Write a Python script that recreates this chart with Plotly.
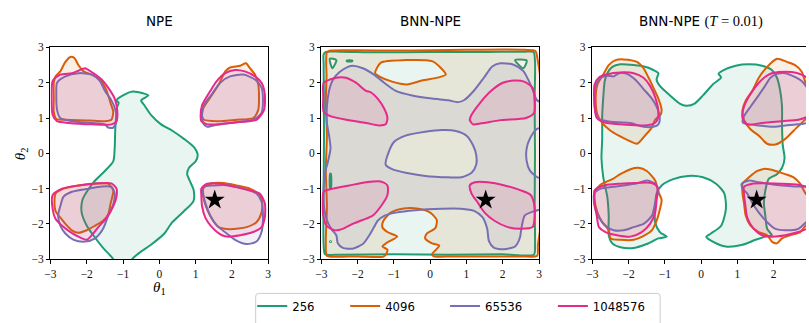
import plotly.graph_objects as go

W, H = 809, 323

budgets = ["256", "4096", "65536", "1048576"]
line_colors = ["#1b9e77", "#d95f02", "#7570b3", "#e7298a"]
fill_colors = ["rgba(27,158,119,0.1)", "rgba(217,95,2,0.1)",
               "rgba(117,112,179,0.1)", "rgba(231,41,138,0.1)"]
ticks = [-3, -2, -1, 0, 1, 2, 3]
theta_true = [1.53, -1.32]

# ---------------- NPE credible regions ----------------
npe_256 = [[(-1.27, -3.0), (-1.55, -2.68), (-1.82, -2.32), (-2.0, -2.05), (-2.14, -1.68), (-2.12, -1.32),
            (-2.0, -1.09), (-1.77, -0.77), (-1.5, -0.5), (-1.27, -0.23), (-1.23, 0.14), (-1.21, 0.77),
            (-1.16, 1.32), (-1.12, 1.43), (-1.18, 1.5), (-1.0, 1.64), (-0.73, 1.75), (-0.45, 1.7),
            (-0.3, 1.64), (-0.5, 1.5), (-0.41, 1.36), (-0.23, 1.09), (0.05, 0.82), (0.36, 0.64),
            (0.68, 0.41), (0.95, 0.18), (1.06, -0.05), (1.0, -0.23), (0.82, -0.41), (0.77, -0.59),
            (0.86, -0.82), (0.95, -1.05), (0.94, -1.36), (0.68, -1.64), (0.36, -1.95), (0.14, -2.27),
            (-0.23, -2.59), (-0.55, -2.82), (-0.75, -3.0), (-0.85, -3.3), (-1.2, -3.3)]]
npe_4096 = [
    [(-2.91, 2.0), (-2.86, 2.18), (-2.73, 2.32), (-2.59, 2.59), (-2.45, 2.73), (-2.34, 2.7), (-2.23, 2.5),
     (-2.09, 2.32), (-1.86, 2.23), (-1.64, 2.09), (-1.45, 1.77), (-1.34, 1.41), (-1.27, 1.18), (-1.32, 0.95),
     (-1.5, 0.91), (-1.95, 0.93), (-2.59, 0.95), (-2.84, 0.97), (-2.91, 1.18), (-2.91, 1.59)],
    [(1.18, 1.05), (1.21, 1.27), (1.41, 1.59), (1.64, 1.95), (1.82, 2.32), (1.95, 2.43), (2.23, 2.48),
     (2.39, 2.55), (2.5, 2.41), (2.64, 2.23), (2.73, 1.95), (2.75, 1.59), (2.73, 1.23), (2.59, 1.0),
     (2.14, 0.95), (1.59, 0.91), (1.23, 0.95)],
    [(-2.86, -1.14), (-2.64, -1.0), (-2.23, -0.91), (-1.77, -0.86), (-1.41, -0.86), (-1.27, -1.05),
     (-1.34, -1.41), (-1.41, -1.73), (-1.55, -1.91), (-1.77, -2.05), (-2.0, -2.18), (-2.23, -2.25),
     (-2.41, -2.18), (-2.59, -2.0), (-2.73, -1.82), (-2.86, -1.64), (-2.89, -1.36)],
    [(1.21, -1.0), (1.41, -0.86), (1.77, -0.84), (2.14, -0.91), (2.5, -1.0), (2.73, -1.14), (2.84, -1.36),
     (2.82, -1.68), (2.68, -1.95), (2.41, -2.09), (1.95, -2.15), (1.64, -2.09), (1.45, -1.86),
     (1.32, -1.59), (1.23, -1.32)],
]
npe_65536 = [
    [(-2.82, 2.0), (-2.59, 2.18), (-2.23, 2.27), (-1.86, 2.23), (-1.64, 2.05), (-1.5, 1.77), (-1.32, 1.5),
     (-1.21, 1.23), (-1.18, 0.91), (-1.27, 0.73), (-1.41, 0.73), (-1.5, 0.82), (-1.86, 0.86), (-2.41, 0.91),
     (-2.73, 1.0), (-2.82, 1.23), (-2.84, 1.68)],
    [(1.18, 1.09), (1.23, 1.36), (1.45, 1.68), (1.68, 2.0), (1.95, 2.18), (2.32, 2.23), (2.64, 2.09),
     (2.82, 1.86), (2.86, 1.5), (2.82, 1.14), (2.59, 0.95), (1.95, 0.86), (1.5, 0.79), (1.32, 0.75),
     (1.21, 0.86)],
    [(-2.73, -1.5), (-2.64, -1.23), (-2.41, -1.09), (-1.95, -1.0), (-1.59, -0.94), (-1.32, -0.95),
     (-1.23, -1.14), (-1.27, -1.45), (-1.41, -1.77), (-1.55, -2.14), (-1.77, -2.41), (-2.05, -2.5),
     (-2.36, -2.45), (-2.59, -2.27), (-2.73, -2.05), (-2.79, -1.77)],
    [(1.21, -0.95), (1.5, -0.91), (1.95, -0.91), (2.32, -1.0), (2.68, -1.14), (2.82, -1.36), (2.86, -1.77),
     (2.82, -2.23), (2.68, -2.5), (2.41, -2.57), (2.09, -2.45), (1.86, -2.27), (1.59, -2.05), (1.41, -1.77),
     (1.27, -1.41), (1.21, -1.14)],
]
npe_1048576 = [
    [(-2.94, 2.05), (-2.73, 2.23), (-2.41, 2.27), (-2.23, 2.34), (-2.05, 2.41), (-1.82, 2.27), (-1.59, 2.09),
     (-1.41, 1.86), (-1.23, 1.55), (-1.16, 1.23), (-1.18, 0.91), (-1.32, 0.82), (-1.86, 0.82), (-2.5, 0.86),
     (-2.82, 0.91), (-2.94, 1.09), (-2.97, 1.59)],
    [(1.14, 1.05), (1.18, 1.36), (1.41, 1.77), (1.59, 2.05), (1.82, 2.27), (2.09, 2.36), (2.36, 2.32),
     (2.64, 2.18), (2.82, 2.0), (2.91, 1.68), (2.89, 1.23), (2.68, 0.95), (2.14, 0.88), (1.59, 0.82),
     (1.32, 0.82), (1.16, 0.91)],
    [(-2.94, -1.18), (-2.68, -1.0), (-2.23, -0.91), (-1.68, -0.85), (-1.32, -0.85), (-1.18, -1.0),
     (-1.18, -1.23), (-1.27, -1.5), (-1.45, -1.82), (-1.68, -2.09), (-1.86, -2.32), (-2.0, -2.45),
     (-2.23, -2.36), (-2.45, -2.23), (-2.68, -2.05), (-2.86, -1.86), (-2.94, -1.59)],
    [(1.16, -1.0), (1.32, -0.86), (1.68, -0.86), (2.09, -0.95), (2.5, -1.05), (2.77, -1.14), (2.91, -1.41),
     (2.91, -1.82), (2.82, -2.09), (2.59, -2.23), (2.23, -2.32), (1.91, -2.36), (1.73, -2.32), (1.45, -2.09),
     (1.27, -1.82), (1.18, -1.5), (1.16, -1.18)],
]

# ---------------- BNN-NPE credible regions ----------------
bnn_256 = [[(-2.94, 2.8), (-2.88, 2.87), (-2.5, 2.88), (-1.5, 2.86), (0.0, 2.87), (1.5, 2.87), (2.6, 2.88),
            (2.85, 2.87), (2.89, 2.6), (2.88, 1.5), (2.89, 0.0), (2.88, -1.5), (2.89, -2.6), (2.86, -2.87),
            (2.0, -2.86), (0.5, -2.87), (-1.0, -2.86), (-2.5, -2.87), (-2.9, -2.86), (-2.94, -2.6),
            (-2.94, -1.0), (-2.93, 0.5), (-2.94, 2.5)]]
bnn_256_holes = [
    [(-2.77, 2.68), (-2.59, 2.64), (-2.7, 2.41)],
    [(2.34, 2.64), (2.66, 2.63), (2.57, 2.41)],
    [(-2.3, 2.63), (-2.15, 2.63), (-2.15, 2.61), (-2.3, 2.61)],
    [(-2.76, -0.58), (-2.74, -0.58), (-2.74, -1.0), (-2.76, -1.0)],
    [(-2.76, -2.49), (-2.74, -2.49), (-2.74, -2.51), (-2.76, -2.51)],
]
bnn_4096 = [[(-2.87, 2.6), (-2.85, 2.86), (-2.75, 2.91), (-2.0, 2.92), (-1.0, 2.91), (0.0, 2.92), (1.0, 2.93),
             (2.0, 2.94), (2.6, 2.93), (2.9, 2.9), (2.97, 2.6), (3.05, 2.0), (3.05, -2.0), (2.97, -2.6),
             (2.95, -2.9), (2.5, -2.92), (1.5, -2.92), (0.6, -2.92), (0.1, -2.92), (0.05, -2.86),
             (0.16, -2.73), (0.25, -2.61), (0.05, -2.55), (-0.14, -2.41), (-0.09, -2.27), (0.14, -2.12),
             (0.18, -1.89), (0.0, -1.68), (-0.32, -1.57), (-0.73, -1.56), (-1.09, -1.68), (-1.29, -1.91),
             (-1.32, -2.09), (-1.18, -2.23), (-0.91, -2.36), (-1.18, -2.52), (-1.32, -2.64), (-1.18, -2.73),
             (-1.23, -2.88), (-1.3, -2.93), (-2.0, -2.92), (-2.6, -2.93), (-2.85, -2.9), (-2.88, -2.5),
             (-2.85, -1.5), (-2.88, -0.5), (-2.85, 0.5), (-2.88, 1.5), (-2.86, 2.2)]]
bnn_4096_holes = [[(-1.52, 2.27), (-1.36, 2.57), (-0.68, 2.64), (0.05, 2.61), (0.3, 2.41), (0.43, 2.23),
                   (0.23, 2.15), (-0.23, 2.06), (-0.64, 1.95), (-1.05, 2.03), (-1.41, 2.18)]]
bnn_65536 = [[(-2.27, 2.45), (-2.14, 2.48), (-1.86, 2.41), (-1.55, 2.23), (-1.27, 2.0), (-0.95, 1.77),
              (-0.5, 1.64), (0.05, 1.55), (0.5, 1.5), (0.77, 1.45), (0.94, 1.51), (1.21, 1.78), (1.48, 2.14),
              (1.71, 2.46), (1.93, 2.55), (2.3, 2.51), (2.57, 2.33), (2.8, 1.87), (2.94, 1.51), (3.1, 1.4),
              (3.1, 0.75), (2.94, 0.69), (2.75, 0.42), (2.66, 0.14), (2.66, -0.22), (2.75, -0.49),
              (2.94, -0.67), (3.1, -0.75), (3.1, -1.55), (2.89, -1.63), (2.61, -1.76), (2.53, -2.04),
              (2.47, -2.4), (2.35, -2.63), (2.03, -2.72), (1.75, -2.67), (1.62, -2.49), (1.57, -2.13),
              (1.44, -1.81), (1.21, -1.63), (0.84, -1.57), (0.32, -1.57), (-0.41, -1.61), (-0.95, -1.68),
              (-1.27, -1.77), (-1.45, -1.91), (-1.55, -2.09), (-1.68, -2.32), (-1.86, -2.57), (-2.14, -2.7),
              (-2.41, -2.68), (-2.55, -2.55), (-2.59, -2.32), (-2.73, -2.14), (-2.86, -1.86), (-2.94, -1.41),
              (-2.94, -0.95), (-2.91, -0.59), (-2.82, -0.23), (-2.75, 0.14), (-2.79, 0.5), (-2.85, 0.86),
              (-2.85, 1.32), (-2.79, 1.77), (-2.68, 2.09), (-2.5, 2.3)]]
bnn_65536_holes = [[(-1.23, -0.32), (-1.14, 0.05), (-1.0, 0.32), (-0.68, 0.5), (-0.14, 0.61), (0.32, 0.66),
                    (0.68, 0.64), (1.0, 0.5), (1.18, 0.23), (1.27, -0.05), (1.27, -0.32), (1.14, -0.55),
                    (0.86, -0.68), (0.5, -0.68), (-0.14, -0.64), (-0.68, -0.55), (-1.05, -0.45)]]
bnn_1048576 = [
    [(-2.94, 2.0), (-2.77, 2.09), (-2.55, 2.15), (-2.32, 2.14), (-2.05, 2.0), (-1.77, 1.77), (-1.64, 1.73),
     (-1.45, 1.55), (-1.27, 1.27), (-1.18, 1.0), (-1.23, 0.82), (-1.41, 0.79), (-1.77, 0.86), (-2.32, 0.95),
     (-2.77, 1.06), (-2.94, 1.18), (-2.95, 1.59)],
    [(1.09, 0.95), (1.14, 1.09), (1.36, 1.41), (1.68, 1.77), (2.0, 2.0), (2.32, 2.06), (2.59, 2.03),
     (2.82, 1.86), (2.88, 1.55), (2.86, 1.14), (2.64, 1.0), (1.95, 0.94), (1.41, 0.85), (1.18, 0.82)],
    [(-2.94, -1.09), (-2.68, -1.0), (-2.23, -0.91), (-1.77, -0.82), (-1.36, -0.8), (-1.18, -0.91),
     (-1.18, -1.18), (-1.36, -1.5), (-1.59, -1.77), (-1.77, -1.85), (-2.14, -2.0), (-2.41, -2.14),
     (-2.64, -2.18), (-2.86, -2.05), (-2.95, -1.77), (-2.97, -1.41)],
    [(1.09, -0.91), (1.23, -0.82), (1.59, -0.82), (2.05, -0.91), (2.5, -1.05), (2.77, -1.18), (2.86, -1.41),
     (2.88, -1.82), (2.82, -2.09), (2.5, -2.14), (2.14, -2.09), (1.77, -1.91), (1.5, -1.68), (1.32, -1.41),
     (1.14, -1.14)],
]

# ---------------- BNN-NPE (T = 0.01) credible regions ----------------
tmp_256 = [[(-2.59, 2.27), (-2.45, 2.45), (-2.23, 2.52), (-1.86, 2.5), (-1.55, 2.45), (-1.32, 2.36),
            (-1.18, 2.27), (-1.23, 2.09), (-1.14, 1.91), (-0.86, 1.64), (-0.59, 1.41), (-0.41, 1.35),
            (-0.18, 1.41), (0.05, 1.64), (0.32, 1.95), (0.55, 2.15), (0.48, 2.25), (0.59, 2.34), (0.95, 2.48),
            (1.32, 2.52), (1.68, 2.48), (1.95, 2.36), (2.09, 2.14), (2.18, 1.77), (2.23, 1.32), (2.23, 0.77),
            (2.25, 0.23), (2.3, -0.14), (2.23, -0.41), (2.09, -0.59), (1.86, -0.73), (1.77, -1.05),
            (1.73, -1.41), (1.77, -1.77), (1.82, -2.14), (1.95, -2.32), (1.77, -2.36), (1.5, -2.45),
            (1.14, -2.59), (0.68, -2.64), (0.32, -2.5), (0.14, -2.36), (0.27, -2.27), (0.55, -2.05),
            (0.68, -1.59), (0.64, -1.14), (0.41, -0.86), (0.05, -0.68), (-0.36, -0.64), (-0.77, -0.73),
            (-1.09, -0.91), (-1.23, -1.14), (-1.27, -1.5), (-1.27, -1.95), (-1.14, -2.23), (-0.95, -2.36),
            (-1.18, -2.41), (-1.5, -2.57), (-1.86, -2.68), (-2.23, -2.66), (-2.45, -2.55), (-2.55, -2.32),
            (-2.55, -1.77), (-2.59, -1.23), (-2.7, -0.68), (-2.75, -0.14), (-2.73, 0.41), (-2.73, 1.05),
            (-2.7, 1.59), (-2.66, 2.05)]]
tmp_4096 = [
    [(-2.68, 2.27), (-2.55, 2.5), (-2.36, 2.64), (-2.14, 2.66), (-1.77, 2.59), (-1.59, 2.41), (-1.45, 2.14),
     (-1.32, 1.86), (-1.18, 1.55), (-1.09, 1.23), (-1.12, 1.09), (-1.27, 0.95), (-1.36, 0.73), (-1.55, 0.5),
     (-1.77, 0.27), (-2.0, 0.36), (-2.27, 0.5), (-2.5, 0.64), (-2.73, 0.86), (-2.86, 1.09), (-2.91, 1.5),
     (-2.86, 1.95)],
    [(1.14, 1.23), (1.23, 1.5), (1.41, 1.77), (1.59, 2.14), (1.82, 2.45), (2.09, 2.68), (2.36, 2.59),
     (2.59, 2.5), (2.77, 2.32), (2.86, 2.05), (2.95, 1.8), (3.05, 1.5), (3.05, 1.1), (2.9, 0.98),
     (2.68, 0.77), (2.5, 0.59), (2.32, 0.41), (2.05, 0.25), (1.82, 0.27), (1.59, 0.5), (1.36, 0.68),
     (1.18, 0.95)],
    [(-2.91, -1.05), (-2.73, -0.86), (-2.45, -0.73), (-2.23, -0.59), (-1.95, -0.45), (-1.73, -0.41),
     (-1.5, -0.5), (-1.27, -0.77), (-1.18, -1.09), (-1.09, -1.32), (-1.14, -1.59), (-1.23, -1.91),
     (-1.36, -2.18), (-1.55, -2.32), (-1.86, -2.45), (-2.23, -2.45), (-2.5, -2.41), (-2.55, -2.18),
     (-2.73, -1.95), (-2.86, -1.68), (-2.94, -1.32)],
    [(1.14, -0.86), (1.32, -0.68), (1.55, -0.5), (1.77, -0.44), (2.05, -0.5), (2.32, -0.59), (2.55, -0.68),
     (2.73, -0.86), (2.88, -1.14), (3.05, -1.3), (3.05, -1.9), (2.88, -2.05), (2.73, -2.23), (2.45, -2.32),
     (2.23, -2.41), (2.09, -2.55), (1.95, -2.5), (1.82, -2.32), (1.59, -2.23), (1.36, -2.05), (1.23, -1.77),
     (1.18, -1.41), (1.14, -1.14)],
]
tmp_65536 = [
    [(-2.91, 1.91), (-2.77, 2.14), (-2.59, 2.2), (-2.41, 2.18), (-2.27, 2.27), (-2.05, 2.25), (-1.82, 2.09),
     (-1.59, 1.82), (-1.36, 1.55), (-1.23, 1.32), (-1.14, 1.0), (-1.18, 0.82), (-1.32, 0.75), (-1.59, 0.75),
     (-1.95, 0.86), (-2.27, 0.88), (-2.59, 0.91), (-2.82, 0.97), (-2.91, 1.14), (-2.94, 1.5)],
    [(1.14, 0.91), (1.18, 1.05), (1.36, 1.32), (1.55, 1.59), (1.73, 1.86), (1.91, 2.14), (2.09, 2.25),
     (2.32, 2.27), (2.55, 2.18), (2.77, 2.05), (2.92, 1.86), (3.05, 1.6), (3.05, 1.0), (2.92, 0.86),
     (2.68, 0.82), (2.32, 0.79), (1.95, 0.75), (1.59, 0.79), (1.32, 0.82), (1.16, 0.86)],
    [(-2.95, -1.14), (-2.77, -1.0), (-2.45, -0.95), (-2.14, -0.91), (-1.77, -0.85), (-1.5, -0.77),
     (-1.27, -0.86), (-1.18, -1.05), (-1.27, -1.41), (-1.36, -1.77), (-1.59, -2.0), (-1.86, -2.09),
     (-2.14, -2.18), (-2.41, -2.18), (-2.64, -2.05), (-2.82, -1.82), (-2.94, -1.5)],
    [(1.12, -0.86), (1.32, -0.77), (1.59, -0.82), (1.86, -0.86), (2.23, -0.91), (2.59, -0.94),
     (2.9, -0.95), (3.05, -1.0), (3.05, -1.9), (2.9, -1.95), (2.68, -2.14), (2.32, -2.18), (2.05, -2.14),
     (1.82, -1.95), (1.59, -1.68), (1.41, -1.41), (1.27, -1.14), (1.14, -1.0)],
]
tmp_1048576 = [
    [(-2.94, 1.95), (-2.82, 2.15), (-2.59, 2.24), (-2.23, 2.29), (-1.86, 2.27), (-1.59, 2.14), (-1.41, 1.91),
     (-1.27, 1.59), (-1.18, 1.18), (-1.23, 0.91), (-1.36, 0.82), (-1.68, 0.79), (-2.23, 0.82), (-2.68, 0.88),
     (-2.88, 1.0), (-2.94, 1.32)],
    [(1.14, 1.0), (1.18, 1.32), (1.36, 1.68), (1.59, 2.0), (1.86, 2.23), (2.14, 2.3), (2.5, 2.3), (2.77, 2.23),
     (2.92, 2.14), (3.05, 2.0), (3.05, 1.1), (2.92, 1.03), (2.68, 0.95), (2.23, 0.91), (1.68, 0.86),
     (1.27, 0.82)],
    [(-2.94, -1.05), (-2.68, -0.91), (-2.23, -0.86), (-1.77, -0.84), (-1.36, -0.84), (-1.21, -0.95),
     (-1.23, -1.32), (-1.27, -1.68), (-1.41, -2.0), (-1.64, -2.23), (-1.95, -2.36), (-2.32, -2.32),
     (-2.64, -2.23), (-2.82, -2.09), (-2.88, -1.77), (-2.94, -1.41)],
    [(1.18, -0.95), (1.41, -0.86), (1.77, -0.85), (2.23, -0.86), (2.68, -0.89), (2.92, -0.95), (3.05, -1.0),
     (3.05, -2.1), (2.92, -2.14), (2.68, -2.23), (2.32, -2.32), (1.95, -2.36), (1.68, -2.32), (1.45, -2.14),
     (1.27, -1.82), (1.21, -1.41), (1.18, -1.14)],
]

panels = [
    {"title": "NPE",
     "regions": [(npe_256, []), (npe_4096, []), (npe_65536, []), (npe_1048576, [])]},
    {"title": "BNN-NPE",
     "regions": [(bnn_256, bnn_256_holes), (bnn_4096, bnn_4096_holes),
                 (bnn_65536, bnn_65536_holes), (bnn_1048576, [])]},
    {"title": "BNN-NPE <span style=\"font-family:Liberation Serif;font-size:14.5px\">(<i>T</i> = 0.01)</span>",
     "regions": [(tmp_256, []), (tmp_4096, []), (tmp_65536, []), (tmp_1048576, [])]},
]


def signed_area(ring):
    return 0.5 * sum(x0 * y1 - x1 * y0
                     for (x0, y0), (x1, y1) in zip(ring, ring[1:] + ring[:1]))


def oriented(ring, ccw):
    return ring if (signed_area(ring) > 0) == ccw else ring[::-1]


def ring_xy(outer, holes):
    """Closed outline(s) separated by gaps; holes wound the other way."""
    xs, ys = [], []
    for ring, ccw in [(r, True) for r in outer] + [(r, False) for r in holes]:
        r = oriented(list(ring), ccw)
        r = r + [r[0]]
        xs += [p[0] for p in r] + [None]
        ys += [p[1] for p in r] + [None]
    return xs, ys


# axes placement in pixels
px_x = [(45, 265), (319, 539), (593, 809)]
px_top, px_bot = 43, 263
unit = (265 - 45) / 6.0

fig = go.Figure()
for pi, panel in enumerate(panels):
    ax = "" if pi == 0 else str(pi + 1)
    for bi, (outer, holes) in enumerate(panel["regions"]):
        xs, ys = ring_xy(outer, holes)
        fig.add_trace(go.Scatter(
            x=xs, y=ys, mode="lines", fill="toself", fillcolor=fill_colors[bi],
            line=dict(color=line_colors[bi], width=2, shape="spline", smoothing=0.7),
            name=budgets[bi], showlegend=False,
            xaxis="x" + ax, yaxis="y" + ax, hoverinfo="skip"))
    fig.add_trace(go.Scatter(
        x=[theta_true[0]], y=[theta_true[1]], mode="markers",
        marker=dict(symbol="star", size=15, color="black", line=dict(width=0)),
        showlegend=False, xaxis="x" + ax, yaxis="y" + ax))

# legend entries (line swatches only)
for bi, name in enumerate(budgets):
    fig.add_trace(go.Scatter(
        x=[None], y=[None], mode="lines", name=name,
        line=dict(color=line_colors[bi], width=2),
        legend="legend" if bi == 0 else f"legend{bi + 1}", showlegend=True))

tick_font = dict(family="Liberation Serif", size=11.5, color="#111111")
layout = dict(width=W, height=H, margin=dict(l=0, r=0, t=0, b=0),
              paper_bgcolor="white", plot_bgcolor="white", showlegend=True)
for pi in range(3):
    ax = "" if pi == 0 else str(pi + 1)
    x0, x1 = px_x[pi]
    xmax = -3 + (x1 - x0) / unit
    layout["xaxis" + ax] = dict(
        domain=[x0 / W, x1 / W], range=[-3, xmax], tickvals=ticks,
        ticks="outside", ticklen=3.5, tickwidth=0.8, tickcolor="black",
        showline=True, linecolor="black", linewidth=1, mirror=True,
        showgrid=False, zeroline=False, tickfont=tick_font,
        anchor="y" + ax)
    layout["yaxis" + ax] = dict(
        domain=[(H - px_bot) / H, (H - px_top) / H], range=[-3, 3], tickvals=ticks,
        ticks="outside", ticklen=3.5, tickwidth=0.8, tickcolor="black",
        showline=True, linecolor="black", linewidth=1, mirror=(pi < 2),
        showgrid=False, zeroline=False, tickfont=tick_font,
        anchor="x" + ax)

# legends: one per budget, laid out in a single framed row
legend_x = [258, 352, 453, 562]
for bi in range(4):
    key = "legend" if bi == 0 else f"legend{bi + 1}"
    layout[key] = dict(x=(legend_x[bi] - 9) / W, xanchor="left", y=(H - 311.5) / H,
                       yanchor="middle", orientation="h", bgcolor="rgba(0,0,0,0)",
                       borderwidth=0, font=dict(family="DejaVu Sans", size=11.7, color="black"),
                       itemclick=False)

fig.update_layout(**layout)

# legend frame
fl, ft, fr, fb, rr = 252.5, 298.5, 661.5, 340.0, 3.0


def px(x):
    return x / W


def py(y):
    return (H - y) / H


frame = (f"M {px(fl + rr)},{py(ft)} L {px(fr - rr)},{py(ft)} Q {px(fr)},{py(ft)} {px(fr)},{py(ft + rr)} "
         f"L {px(fr)},{py(fb)} L {px(fl)},{py(fb)} L {px(fl)},{py(ft + rr)} "
         f"Q {px(fl)},{py(ft)} {px(fl + rr)},{py(ft)} Z")
fig.add_shape(type="path", path=frame, xref="paper", yref="paper",
              line=dict(color="#cccccc", width=1), fillcolor="rgba(255,255,255,0.8)", layer="below")

title_x = [155, 429, 703]
for pi, panel in enumerate(panels):
    fig.add_annotation(text=panel["title"], x=title_x[pi] / W, y=py(16), xref="paper", yref="paper",
                       xanchor="center", yanchor="middle", showarrow=False,
                       font=dict(family="DejaVu Sans", size=13.5, color="black"))

fig.add_annotation(text="<i>θ</i><sub>1</sub>", x=155 / W, y=py(293), xref="paper", yref="paper",
                   xanchor="center", yanchor="middle", showarrow=False, borderpad=0,
                   font=dict(family="Liberation Serif", size=15, color="black"))
fig.add_annotation(text="<i>θ</i><sub>2</sub>", x=15 / W, y=py(153), xref="paper", yref="paper",
                   xanchor="center", yanchor="middle", showarrow=False, textangle=-90, borderpad=0,
                   font=dict(family="Liberation Serif", size=15, color="black"))

fig.write_html("out.html")
